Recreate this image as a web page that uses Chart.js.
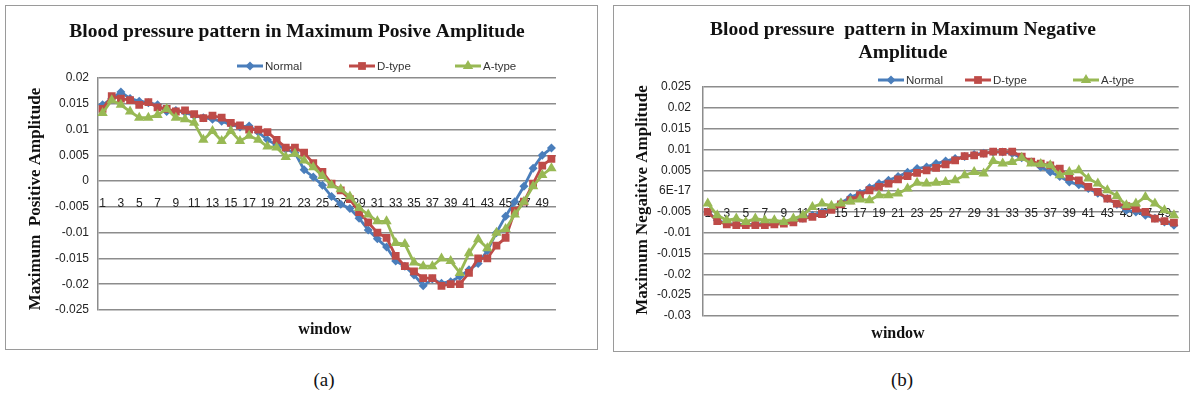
<!DOCTYPE html>
<html>
<head>
<meta charset="utf-8">
<script src="https://cdn.jsdelivr.net/npm/chart.js@4.4.1/dist/chart.umd.min.js"></script>
<style>
  body { margin: 0; background: #fff; width: 1194px; height: 398px; position: relative; overflow: hidden; }
  .box { position: absolute; border: 1px solid #9a9a9a; background: #fff; }
  #boxA { left: 5px; top: 5px; width: 591px; height: 343px; }
  #boxB { left: 613px; top: 5px; width: 575px; height: 345px; }
  .cap { position: absolute; top: 369px; font: 19px "Liberation Serif", serif; color: #111; transform: translateX(-50%); }
</style>
</head>
<body>
<div class="box" id="boxA"><canvas id="chartA"></canvas></div>
<div class="box" id="boxB"><canvas id="chartB"></canvas></div>
<div class="cap" style="left:324px">(a)</div>
<div class="cap" style="left:902px">(b)</div>
<script>
// window index 1..50
const windows = [];
for (let i = 1; i <= 50; i++) windows.push(String(i));

const seriesNames = ['Normal', 'D-type', 'A-type'];

// (a) maximum positive amplitude
const posNormal = [0.0148, 0.0160, 0.0173, 0.0160, 0.0155, 0.0152, 0.0148, 0.0135, 0.0137, 0.0133,
  0.0127, 0.0123, 0.0120, 0.0116, 0.0110, 0.0105, 0.0107, 0.0095, 0.0080, 0.0070,
  0.0062, 0.0055, 0.0022, 0.0008, -0.0008, -0.0030, -0.0045, -0.0053, -0.0072, -0.0095,
  -0.0112, -0.0128, -0.0155, -0.0165, -0.0182, -0.0203, -0.0190, -0.0198, -0.0195, -0.0185,
  -0.0172, -0.0160, -0.0135, -0.0100, -0.0068, -0.0040, -0.0010, 0.0025, 0.0050, 0.0064];
const posDType = [0.0140, 0.0165, 0.0160, 0.0157, 0.0148, 0.0153, 0.0143, 0.0140, 0.0135, 0.0137,
  0.0130, 0.0122, 0.0127, 0.0123, 0.0113, 0.0108, 0.0100, 0.0100, 0.0095, 0.0080,
  0.0065, 0.0065, 0.0055, 0.0035, 0.0018, -0.0005, -0.0018, -0.0035, -0.0060, -0.0080,
  -0.0100, -0.0110, -0.0145, -0.0165, -0.0175, -0.0188, -0.0188, -0.0203, -0.0200, -0.0200,
  -0.0178, -0.0150, -0.0150, -0.0125, -0.0110, -0.0058, -0.0040, -0.0005, 0.0030, 0.0043];
const posAType = [0.0132, 0.0157, 0.0148, 0.0135, 0.0123, 0.0123, 0.0128, 0.0140, 0.0123, 0.0120,
  0.0113, 0.0080, 0.0097, 0.0078, 0.0097, 0.0078, 0.0088, 0.0080, 0.0067, 0.0065,
  0.0047, 0.0053, 0.0040, 0.0027, 0.0010, -0.0008, -0.0016, -0.0030, -0.0052, -0.0065,
  -0.0078, -0.0078, -0.0120, -0.0122, -0.0158, -0.0165, -0.0165, -0.0150, -0.0155, -0.0178,
  -0.0140, -0.0113, -0.0130, -0.0100, -0.0093, -0.0065, -0.0040, -0.0010, 0.0012, 0.0025];

// (b) maximum negative amplitude
const negNormal = [-0.0050, -0.0070, -0.0078, -0.0080, -0.0080, -0.0080, -0.0078, -0.0078, -0.0075, -0.0072,
  -0.0065, -0.0058, -0.0050, -0.0040, -0.0028, -0.0015, -0.0005, 0.0008, 0.0018, 0.0026,
  0.0035, 0.0045, 0.0054, 0.0058, 0.0066, 0.0072, 0.0078, 0.0083, 0.0088, 0.0091,
  0.0093, 0.0094, 0.0090, 0.0080, 0.0070, 0.0058, 0.0046, 0.0035, 0.0022, 0.0015,
  0.0006, -0.0005, -0.0018, -0.0032, -0.0046, -0.0050, -0.0058, -0.0065, -0.0074, -0.0082];
const negDType = [-0.0050, -0.0072, -0.0080, -0.0082, -0.0082, -0.0082, -0.0082, -0.0080, -0.0078, -0.0075,
  -0.0066, -0.0062, -0.0055, -0.0045, -0.0032, -0.0022, -0.0010, 0.0002, 0.0010, 0.0018,
  0.0028, 0.0036, 0.0044, 0.0050, 0.0056, 0.0064, 0.0074, 0.0084, 0.0086, 0.0090,
  0.0095, 0.0094, 0.0095, 0.0083, 0.0071, 0.0066, 0.0062, 0.0054, 0.0034, 0.0026,
  0.0010, -0.0002, -0.0018, -0.0030, -0.0036, -0.0042, -0.0050, -0.0066, -0.0072, -0.0076];
const negAType = [-0.0030, -0.0058, -0.0070, -0.0066, -0.0074, -0.0066, -0.0070, -0.0070, -0.0074, -0.0066,
  -0.0058, -0.0038, -0.0030, -0.0035, -0.0030, -0.0025, -0.0020, -0.0022, -0.0010, -0.0010,
  -0.0006, 0.0006, 0.0020, 0.0018, 0.0020, 0.0022, 0.0026, 0.0038, 0.0046, 0.0042,
  0.0072, 0.0066, 0.0070, 0.0080, 0.0066, 0.0065, 0.0062, 0.0038, 0.0046, 0.0050,
  0.0030, 0.0018, 0.0002, -0.0012, -0.0034, -0.0030, -0.0014, -0.0030, -0.0046, -0.0058];

const colors = ['#4a7ebb', '#be4b48', '#98b954'];
const markers = ['rectRot', 'rect', 'triangle'];
const markerSize = [4.5, 5.5, 6];
const gridColor = '#8c8c8c';
const tickFont = { family: '"Liberation Sans", Arial, sans-serif', size: 12 };

// draws the excel-style titles, axis titles and legend
const textPlugin = {
  id: 'excelText',
  afterDraw(chart, args, opts) {
    const ctx = chart.ctx;
    ctx.save();
    ctx.fillStyle = '#111';
    ctx.textAlign = 'center';
    ctx.textBaseline = 'middle';
    ctx.font = 'bold 19.5px "Liberation Serif", serif';
    opts.title.forEach((line) => ctx.fillText(line.text, line.x, line.y));

    ctx.font = 'bold 16px "Liberation Serif", serif';
    ctx.fillText('window', opts.xTitle.x, opts.xTitle.y);
    ctx.font = 'bold 17px "Liberation Serif", serif';
    ctx.save();
    ctx.translate(opts.yTitle.x, opts.yTitle.y);
    ctx.rotate(-Math.PI / 2);
    ctx.fillText(opts.yTitle.text, 0, 0);
    ctx.restore();

    // legend: line with marker, then label
    ctx.font = '11.5px "Liberation Sans", Arial, sans-serif';
    ctx.textAlign = 'left';
    chart.data.datasets.forEach((ds, i) => {
      const x = opts.legend.x[i];
      const y = opts.legend.y;
      ctx.strokeStyle = ds.borderColor;
      ctx.fillStyle = ds.borderColor;
      ctx.lineWidth = 3;
      ctx.beginPath();
      ctx.moveTo(x, y);
      ctx.lineTo(x + 26, y);
      ctx.stroke();
      Chart.helpers.drawPoint(ctx, { pointStyle: ds.pointStyle, radius: ds.pointRadius, rotation: 0, borderWidth: 0 }, x + 13, y);
      ctx.fillStyle = '#333';
      ctx.fillText(ds.label, x + 28, y + 1);
    });
    ctx.restore();
  }
};

function makeDatasets(values) {
  return values.map((data, i) => ({
    label: seriesNames[i],
    data,
    borderColor: colors[i],
    backgroundColor: colors[i],
    pointStyle: markers[i],
    pointRadius: markerSize[i],
    pointBorderWidth: 0,
    borderWidth: 2.8,
    tension: 0,
    order: 3 - i
  }));
}

function makeChart(id, values, cfg) {
  return new Chart(document.getElementById(id), {
    type: 'line',
    data: { labels: windows, datasets: makeDatasets(values) },
    options: {
      responsive: true,
      maintainAspectRatio: false,
      animation: false,
      layout: { padding: cfg.padding },
      plugins: { legend: { display: false }, tooltip: { enabled: false }, excelText: cfg.text },
      scales: {
        x: {
          type: 'category',
          offset: true,
          position: { y: 0 },
          grid: { display: false, drawTicks: false },
          border: { display: false },
          ticks: {
            autoSkip: false, maxRotation: 0, minRotation: 0, padding: 15, color: '#222', font: tickFont,
            callback: (v, i) => (i % 2 === 0 ? windows[i] : '')
          }
        },
        y: {
          min: cfg.min,
          max: cfg.max,
          afterFit: (scale) => { scale.width = cfg.axisWidth; },
          grid: { color: gridColor, lineWidth: 1.5, drawTicks: false },
          border: { display: true, color: gridColor, width: 1.5 },
          ticks: { stepSize: 0.005, padding: cfg.tickPad, color: '#222', font: tickFont, callback: cfg.fmt }
        }
      }
    },
    plugins: [textPlugin]
  });
}

const fmt = (v) => String(parseFloat(v.toFixed(3)));

makeChart('chartA', [posNormal, posDType, posAType], {
  min: -0.025, max: 0.02, axisWidth: 92, tickPad: 9,
  padding: { left: 0, right: 41, top: 72, bottom: 39 },
  fmt,
  text: {
    title: [{ text: 'Blood pressure pattern in Maximum Posive Amplitude', x: 291, y: 26 }],
    xTitle: { x: 319, y: 324 },
    yTitle: { text: 'Maximum  Positive Amplitude', x: 30, y: 193 },
    legend: { x: [231, 343, 449], y: 60 }
  }
});

makeChart('chartB', [negNormal, negDType, negAType], {
  min: -0.03, max: 0.025, axisWidth: 89, tickPad: 12,
  padding: { left: 0, right: 6, top: 81, bottom: 35 },
  fmt: (v) => (Math.abs(v) < 1e-9 ? '6E-17' : fmt(v)),
  text: {
    title: [
      { text: 'Blood pressure  pattern in Maximum Negative', x: 289, y: 24 },
      { text: 'Amplitude', x: 289, y: 47 }
    ],
    xTitle: { x: 284, y: 328 },
    yTitle: { text: 'Maximum Negaitive Amplitude', x: 29, y: 194 },
    legend: { x: [264, 351, 459], y: 74 }
  }
});
</script>
</body>
</html>
